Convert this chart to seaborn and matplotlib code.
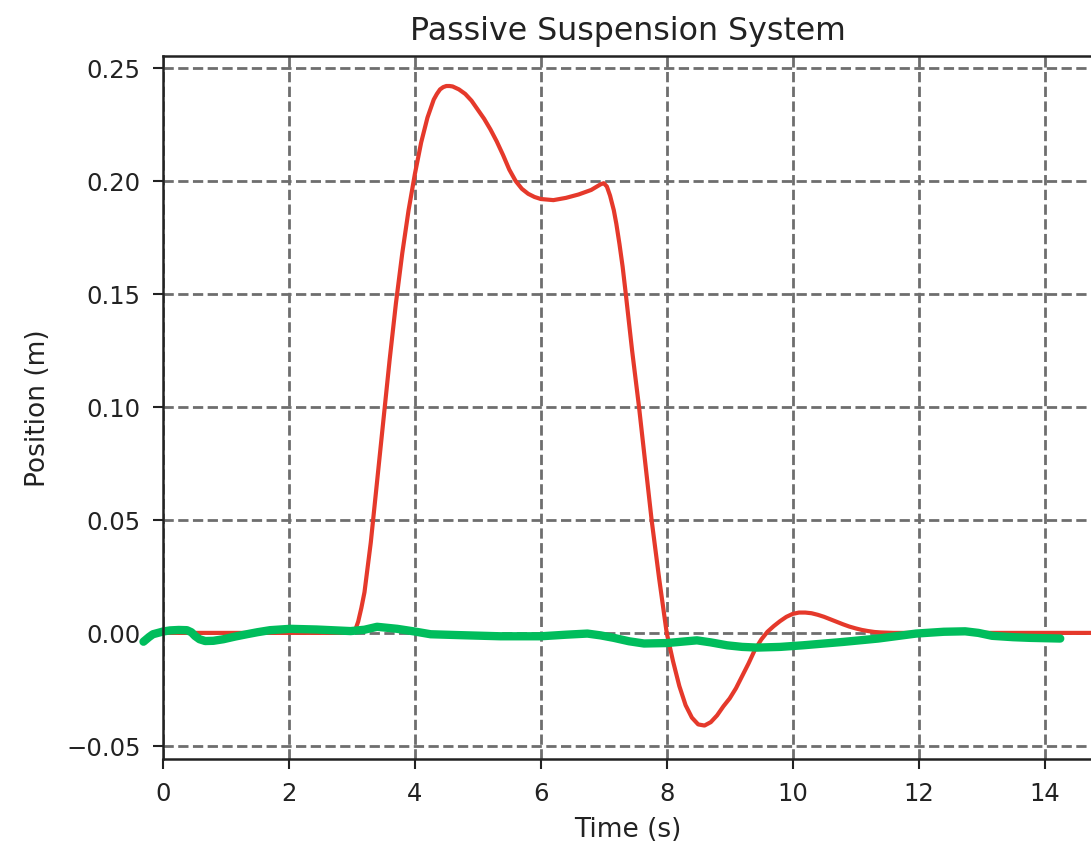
import numpy as np
import pandas as pd
import matplotlib
matplotlib.use("Agg")
import matplotlib.pyplot as plt
import seaborn as sns

# passive suspension response (red)
t_red = [0, 1, 2, 2.9, 3.0, 3.05, 3.1, 3.15, 3.2, 3.3, 3.4, 3.5, 3.6, 3.7, 3.8, 3.9,
         4.0, 4.1, 4.2, 4.3, 4.35, 4.4, 4.45, 4.5, 4.55, 4.6, 4.7, 4.8, 4.9, 5.0, 5.1,
         5.2, 5.3, 5.4, 5.5, 5.6, 5.7, 5.8, 5.9, 6.0, 6.2, 6.4, 6.6, 6.8, 6.95, 7.0,
         7.05, 7.1, 7.16, 7.2, 7.25, 7.3, 7.35, 7.45, 7.56, 7.66, 7.76, 7.88, 8.0,
         8.1, 8.2, 8.3, 8.4, 8.5, 8.6, 8.7, 8.8, 8.9, 9.0, 9.1, 9.2, 9.3, 9.4, 9.5,
         9.6, 9.7, 9.8, 9.9, 10.0, 10.1, 10.2, 10.3, 10.4, 10.5, 10.6, 10.7, 10.8,
         10.9, 11.0, 11.1, 11.2, 11.3, 11.4, 11.6, 12, 13, 14, 15]
pos_red = [0, 0, 0, 0, 0.0, 0.001, 0.005, 0.011, 0.018, 0.040, 0.067, 0.094, 0.121,
           0.146, 0.168, 0.187, 0.203, 0.217, 0.228, 0.236, 0.2385, 0.2405, 0.2415,
           0.242, 0.242, 0.2418, 0.2405, 0.2385, 0.2355, 0.2315, 0.2275, 0.2228,
           0.2175, 0.2115, 0.205, 0.200, 0.1965, 0.1943, 0.1929, 0.192, 0.1915,
           0.1925, 0.194, 0.196, 0.1985, 0.199, 0.1975, 0.1935, 0.187, 0.181, 0.172,
           0.162, 0.150, 0.125, 0.100, 0.075, 0.050, 0.024, 0.0, -0.0125, -0.0235,
           -0.032, -0.0375, -0.0405, -0.041, -0.0395, -0.0365, -0.0325, -0.029,
           -0.0245, -0.019, -0.0135, -0.0075, -0.003, 0.0005, 0.003, 0.0052, 0.0071,
           0.0084, 0.009, 0.009, 0.0087, 0.008, 0.0071, 0.006, 0.0049, 0.0038, 0.0028,
           0.002, 0.0013, 0.0008, 0.0004, 0.0002, 0.0, 0, 0, 0, 0]

# hand-drawn green trace
t_green = [-0.31, -0.22, -0.16, 0.0, 0.11, 0.25, 0.38, 0.45, 0.51, 0.58, 0.67, 0.8,
           0.96, 1.15, 1.33, 1.50, 1.70, 2.02, 2.44, 2.75, 2.98, 3.2, 3.40, 3.72,
           4.0, 4.25, 4.72, 5.36, 6.0, 6.4, 6.74, 6.95, 7.16, 7.4, 7.64, 8.0, 8.48,
           8.7, 8.96, 9.2, 9.44, 9.8, 10.16, 10.8, 11.36, 11.96, 12.4, 12.74, 12.95,
           13.17, 13.5, 13.77, 14.25]
pos_green = [-0.0039, -0.0018, -0.0006, 0.0006, 0.0011, 0.0013, 0.0012, 0.0003,
             -0.0014, -0.0028, -0.0036, -0.0035, -0.0028, -0.0016, -0.0006, 0.0003,
             0.0012, 0.0018, 0.0015, 0.0011, 0.0008, 0.0014, 0.0027, 0.0018, 0.0006,
             -0.0006, -0.001, -0.0015, -0.0015, -0.0008, -0.0003, -0.0011, -0.0022,
             -0.0037, -0.0047, -0.0045, -0.0033, -0.0042, -0.0055, -0.0062, -0.0065,
             -0.0062, -0.0055, -0.004, -0.0025, -0.0003, 0.0005, 0.0007, 0.0, -0.0013,
             -0.0019, -0.0022, -0.0025]

sns.set_style("ticks")
plt.rcParams["font.family"] = ["DejaVu Sans"]
plt.rcParams["axes.unicode_minus"] = True

fig = plt.figure(figsize=(10.91, 8.45), dpi=100)
# right spine sits just past the cropped right edge of the picture
ax = fig.add_axes([0.1494, 0.1006, 0.8530, 0.8320])

red = pd.DataFrame({"t": t_red, "pos": pos_red})
green = pd.DataFrame({"t": t_green, "pos": pos_green})

sns.lineplot(data=red, x="t", y="pos", ax=ax, color="#e5392b", linewidth=3,
             solid_capstyle="round", solid_joinstyle="round")
sns.lineplot(data=green, x="t", y="pos", ax=ax, color="#00bd5c", linewidth=6,
             solid_capstyle="round", solid_joinstyle="round", clip_on=False)

ax.set_xlim(0, 14.78)
ax.set_ylim(-0.0558, 0.2553)
ax.set_xticks(np.arange(0, 15, 2))
ax.set_yticks([-0.05, 0.0, 0.05, 0.10, 0.15, 0.20, 0.25])
ax.grid(True, linestyle="--", color="#6e6e6e", linewidth=2)
ax.set_axisbelow(True)

for s in ax.spines.values():
    s.set_linewidth(1.8)
    s.set_color("#222222")
ax.tick_params(labelsize=17.5, length=7, width=1.5, pad=9, colors="#222222")

ax.set_title("Passive Suspension System", fontsize=22.8, color="#222222", pad=12)
ax.set_xlabel("Time (s)", fontsize=19, color="#222222", labelpad=8)
ax.set_ylabel("Position (m)", fontsize=19, color="#222222", labelpad=11)

fig.savefig("out.png", dpi=100)
